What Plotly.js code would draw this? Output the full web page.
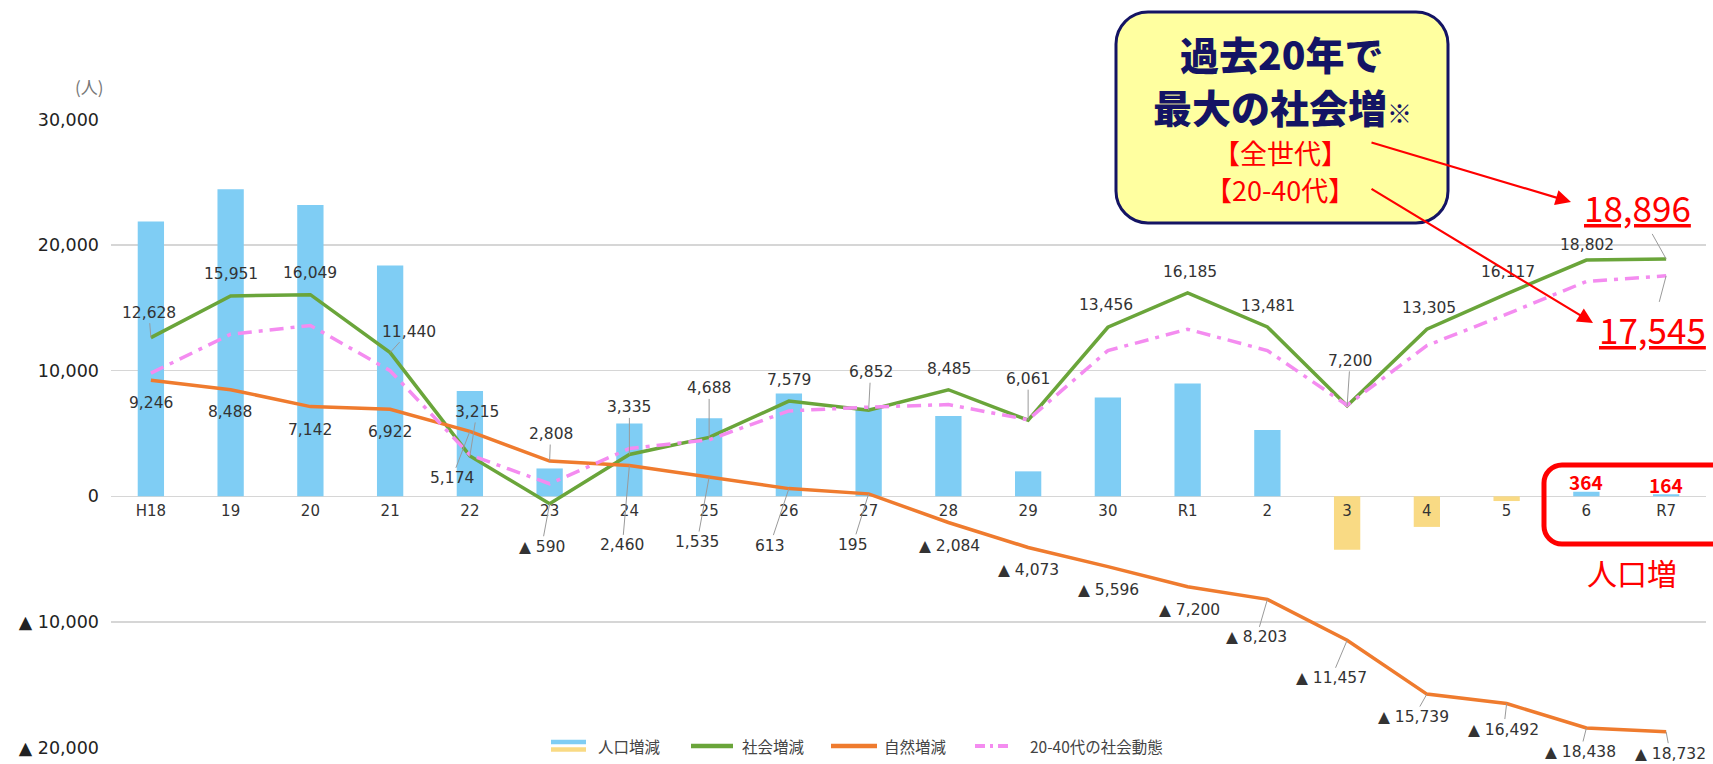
<!DOCTYPE html>
<html><head><meta charset="utf-8">
<script src="https://cdn.plot.ly/plotly-3.0.1.min.js"></script>
<style>html,body{margin:0;padding:0;background:#fff;}#chart{width:1713px;height:764px;}</style>
</head><body><div id="chart"></div>
<script>
// ---------- data ----------
const categories = ['H18','19','20','21','22','23','24','25','26','27','28','29','30','R1','2','3','4','5','6','R7'];
const populationChange = [21874,24439,23191,18362,8389,2218,5795,6223,8192,7047,6401,1988,7860,8985,5278,-4257,-2434,-375,364,164];
const socialChange = [12628,15951,16049,11440,3215,-590,3335,4688,7579,6852,8485,6061,13456,16185,13481,7200,13305,16117,18802,18896];
const naturalChange = [9246,8488,7142,6922,5174,2808,2460,1535,613,195,-2084,-4073,-5596,-7200,-8203,-11457,-15739,-16492,-18438,-18732];
const social2040 = [9800,12900,13600,10000,3300,1000,3800,4500,6800,7100,7300,6100,11600,13300,11600,7250,12000,14500,17100,17545];
const yTickVals = [-20000,-10000,0,10000,20000,30000];
const yTickText = ['▲ 20,000','▲ 10,000','0','10,000','20,000','30,000'];
const seriesNames = ['人口増減','社会増減','自然増減','20-40代の社会動態'];
const unitLabel = '(人)';
const boxLines = ['過去20年で','最大の社会増','【全世代】','【20-40代】'];
const noteMark = '※';
const increaseLabel = '人口増';

// ---------- label placement (pixel offsets, leader line flag) ----------
const socialOffsets = [[-2,-25,1],[0,-22,0],[0,-22,0],[19,-21,1],[7,-44,1],[-8,43,1],[0,-47,1],[0,-49,1],[0,-21,0],[2,-38,1],
  [1,-21,0],[0,-41,1],[-2,-22,0],[2,-21,0],[1,-21,0],[3,-45,1],[2,-21,0],[1,-22,0],[1,-15,0],[-29,-52,1]];
const naturalOffsets = [[0,23,0],[-1,22,0],[0,23,0],[0,23,0],[-18,47,1],[1,-27,1],[-7,80,1],[-12,65,1],[-19,57,1],[-16,51,1],
  [1,23,0],[0,22,0],[1,23,0],[2,23,0],[-11,38,1],[-16,38,1],[-13,23,1],[-3,26,1],[-6,24,1],[4,22,1]];

const L=111, R=1706, T=119, B=748, W=R-L, H=B-T;
const px = x => (x-L)/W;
const py = y => (B-y)/H;
const fmt = v => (v<0 ? '▲ ' : '') + Math.abs(v).toLocaleString('en-US');
const idx = categories.map((_,i)=>i);

const BLUE='#7fcdf4', YELLOW='#f9da84', GREEN='#6aa53a', ORANGE='#ef7b2e', PINK='#f48cf0', NAVY='#141464', RED='#ff0000';
const PINKDASH='14px,7px,4px,7px';
const numFont = {family:'DejaVu Sans', size:15.5, color:'#333'};
const jpFont = 'Noto Sans CJK JP';

const traces = [
  {type:'bar', name:seriesNames[0], x:idx, y:populationChange,
   marker:{color:populationChange.map(v=>v>=0?BLUE:YELLOW)}, width:0.33},
  {type:'scatter', mode:'lines', name:seriesNames[1], x:idx, y:socialChange, line:{color:GREEN, width:3.5}},
  {type:'scatter', mode:'lines', name:seriesNames[2], x:idx, y:naturalChange, line:{color:ORANGE, width:3.5}},
  {type:'scatter', mode:'lines', name:seriesNames[3], x:idx, y:social2040, line:{color:PINK, width:3.5, dash:PINKDASH}}
];

const annotations = [];
function addLabel(i, v, off, font, text){
  const [dx,dy,lead] = off;
  if(lead){
    annotations.push({x:i, y:v, xref:'x', yref:'y', text:text, font:font, showarrow:true, arrowhead:0,
      arrowwidth:1, arrowcolor:'#9a9a9a', ax:dx, ay:dy, standoff:0, startstandoff:0});
  } else {
    annotations.push({x:i, y:v, xref:'x', yref:'y', text:text, font:font, showarrow:false, xshift:dx, yshift:-dy});
  }
}
function paperText(x, y, text, font, anchor){
  annotations.push({xref:'paper', yref:'paper', x:px(x), y:py(y), text:text, showarrow:false,
    xanchor:anchor||'center', yanchor:'middle', font:font});
}
const last = categories.length-1;
const bigRed = {family:jpFont, size:35, color:RED, lineposition:'under'};
socialChange.forEach((v,i)=>{
  addLabel(i, v, socialOffsets[i], i===last ? bigRed : numFont, fmt(v));
});
naturalChange.forEach((v,i)=> addLabel(i, v, naturalOffsets[i], numFont, fmt(v)));
addLabel(last, social2040[last], [-14,53,1], bigRed, fmt(social2040[last]));
[last-1, last].forEach(i=>{
  annotations.push({x:i, y:populationChange[i], xref:'x', yref:'y', text:String(populationChange[i]), showarrow:false,
    yshift:10, yanchor:'middle', font:{family:jpFont, size:19, color:RED, weight:700}});
});
paperText(89, 87, unitLabel, {family:jpFont, size:17, color:'#777'});
paperText(1282, 53, boxLines[0], {family:jpFont, size:39, color:NAVY, weight:900});
paperText(1282, 106, boxLines[1]+'<span style="font-size:25px">'+noteMark+'</span>', {family:jpFont, size:39, color:NAVY, weight:900});
paperText(1280, 152, boxLines[2], {family:jpFont, size:27, color:RED});
paperText(1280, 189, boxLines[3], {family:jpFont, size:27, color:RED});
paperText(1632, 572, increaseLabel, {family:jpFont, size:30, color:RED});
// red arrows
annotations.push({xref:'paper', yref:'paper', x:px(1571), y:py(202), ax:-201, ay:-60, text:'', showarrow:true,
  arrowhead:2, arrowsize:1.4, arrowwidth:2.2, arrowcolor:RED, standoff:0});
annotations.push({xref:'paper', yref:'paper', x:px(1593), y:py(323), ax:-223, ay:-135, text:'', showarrow:true,
  arrowhead:2, arrowsize:1.4, arrowwidth:2.2, arrowcolor:RED, standoff:0});

function roundRect(x0,y0,x1,y1,r){
  const k=0.5523*r;
  const P=(x,y)=>px(x).toFixed(5)+','+py(y).toFixed(5);
  return 'M'+P(x0+r,y0)+' L'+P(x1-r,y0)+' C'+P(x1-r+k,y0)+' '+P(x1,y0+r-k)+' '+P(x1,y0+r)
   +' L'+P(x1,y1-r)+' C'+P(x1,y1-r+k)+' '+P(x1-r+k,y1)+' '+P(x1-r,y1)
   +' L'+P(x0+r,y1)+' C'+P(x0+r-k,y1)+' '+P(x0,y1-r+k)+' '+P(x0,y1-r)
   +' L'+P(x0,y0+r)+' C'+P(x0,y0+r-k)+' '+P(x0+r-k,y0)+' '+P(x0+r,y0)+' Z';
}
const shapes = [
  {type:'path', xref:'paper', yref:'paper', path:roundRect(1116,12,1448,223,32), fillcolor:'#ffffa0',
   line:{color:NAVY, width:3}, layer:'above'},
  {type:'path', xref:'paper', yref:'paper', path:roundRect(1544,465,1740,544,18), fillcolor:'rgba(0,0,0,0)',
   line:{color:RED, width:5}, layer:'above'}
];
// ---------- manual legend ----------
function legLine(x0,x1,y,color,width,dash){
  shapes.push({type:'line', xref:'paper', yref:'paper', x0:px(x0), x1:px(x1), y0:py(y), y1:py(y),
    line:{color:color, width:width, dash:dash||'solid'}, layer:'above'});
}
const legFont = {family:jpFont, size:15.5, color:'#444'};
legLine(551,586,742,BLUE,4.5); legLine(551,586,749.5,YELLOW,4.5);
paperText(596, 746, seriesNames[0], legFont, 'left');
legLine(691,733,746,GREEN,4.5);
paperText(740, 746, seriesNames[1], legFont, 'left');
legLine(831,877,746,ORANGE,4.5);
paperText(882, 746, seriesNames[2], legFont, 'left');
legLine(975,1012,746,PINK,4,'10px,5px,3px,5px');
paperText(1028, 746, seriesNames[3], legFont, 'left');

const layout = {
  width:1713, height:764,
  margin:{l:L, r:1713-R, t:T, b:764-B, pad:0},
  paper_bgcolor:'#fff', plot_bgcolor:'#fff',
  showlegend:false,
  xaxis:{range:[-0.5,19.5], anchor:'free', position:0.4, tickvals:idx, ticktext:categories, showgrid:false,
    zeroline:false, showline:false, ticks:'', ticklabelstandoff:4, tickfont:{family:'DejaVu Sans', size:15, color:'#333'}},
  yaxis:{range:[-20030,30030], tickvals:yTickVals, ticktext:yTickText, showgrid:true, gridcolor:'#d6d6d6', gridwidth:1.5,
    zeroline:false, showline:false, ticks:'', ticklabelstandoff:11, tickfont:{family:'DejaVu Sans', size:17.5, color:'#222'}},
  bargap:0.67,
  annotations:annotations,
  shapes:shapes
};
Plotly.newPlot('chart', traces, layout, {staticPlot:true});
</script></body></html>
